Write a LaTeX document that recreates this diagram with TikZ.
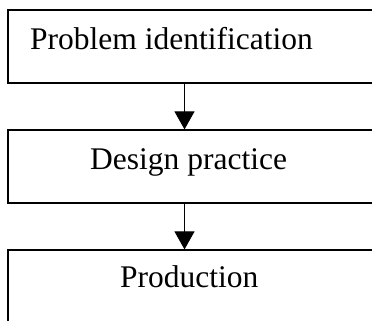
\documentclass[tikz,border=0pt]{standalone}
\usepackage{fontspec}
\setmainfont{Liberation Serif}
\usetikzlibrary{arrows.meta}

\tikzset{
  stage/.style={draw, line width=1.2pt, rectangle, minimum width=368pt, inner sep=0pt},
  lbl/.style={anchor=base west, inner sep=0pt, font=\fontsize{31.5}{36}\selectfont},
  flow/.style={line width=1pt, -{Triangle[length=18pt, width=20pt]}}
}

\begin{document}
\begin{tikzpicture}[x=1pt, y=-1pt]
    \useasboundingbox (0,0) rectangle (372,321);
    \clip (0,0) rectangle (372,321);

    \node[stage, minimum height=73pt] (b1) at (192,46.5) {};
    \node[stage, minimum height=73pt] (b2) at (192,166.5) {};
    \node[stage, minimum height=80pt] (b3) at (192,290) {};

    \node[lbl] (t1) at (30,49) {Problem identification};
    \node[lbl] (t2) at (90,169) {Design practice};
    \node[lbl] (t3) at (120,287) {Production};

    \draw[flow] ([xshift=-7.5pt]b1.south) -- ([xshift=-7.5pt]b2.north);
    \draw[flow] ([xshift=-7.5pt]b2.south) -- ([xshift=-7.5pt]b3.north);
\end{tikzpicture}
\end{document}
